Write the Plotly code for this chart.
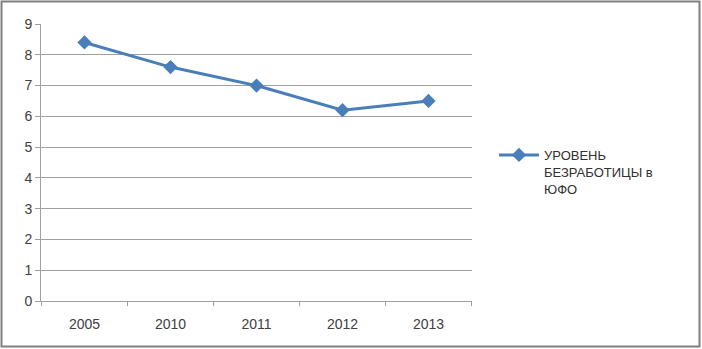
import plotly.graph_objects as go

categories = ["2005", "2010", "2011", "2012", "2013"]
values = [8.4, 7.6, 7.0, 6.2, 6.5]
series_name = "УРОВЕНЬ<br>БЕЗРАБОТИЦЫ в<br>ЮФО"
y_ticks = [0, 1, 2, 3, 4, 5, 6, 7, 8, 9]

W, H = 702, 349
L, R, T, B = 41, 230, 24, 48
pw, ph = W - L - R, H - T - B

fig = go.Figure()
fig.add_trace(go.Scatter(
    x=categories, y=values, name=series_name, mode="lines+markers",
    line=dict(color="#4A7EBB", width=3),
    marker=dict(symbol="diamond", size=11, color="#4A7EBB"),
))

fig.update_layout(
    width=W, height=H,
    margin=dict(l=L, r=R, t=T, b=B),
    paper_bgcolor="white", plot_bgcolor="white",
    font=dict(family="Liberation Sans, Arial, sans-serif", size=14, color="#404040"),
    showlegend=True,
    legend=dict(x=1 + (494 - L - pw) / pw, y=1 - (140 - T) / ph, xanchor="left", yanchor="top",
                valign="top", itemwidth=40,
                font=dict(size=13, color="#303030"), bgcolor="rgba(0,0,0,0)"),
    xaxis=dict(type="category", showgrid=False, showline=True, linecolor="#A0A0A0", linewidth=1,
               ticks="", tickfont=dict(size=14), ticklabelstandoff=10, zeroline=False),
    yaxis=dict(range=[0, 9], tickvals=y_ticks, showgrid=True, gridcolor="#A0A0A0", gridwidth=1,
               showline=True, linecolor="#A0A0A0", linewidth=1, ticks="outside", ticklen=5,
               tickcolor="#A0A0A0", tickfont=dict(size=14), zeroline=False),
)

# category boundary ticks below the x axis
for i in range(len(categories) + 1):
    fig.add_shape(type="line", xref="x", yref="paper", x0=i - 0.5, x1=i - 0.5,
                  y0=0, y1=-5 / ph, line=dict(color="#A0A0A0", width=1))

# outer frame
fig.add_shape(type="rect", xref="paper", yref="paper",
              x0=(1.5 - L) / pw, x1=(W - 2.5 - L) / pw,
              y0=-(B - 2.5) / ph, y1=1 + (T - 1.5) / ph,
              line=dict(color="#808080", width=2), layer="below")

fig.write_html("out.html", config={"displayModeBar": False},
               post_script="document.body.style.margin='0';document.body.style.padding='0';")
